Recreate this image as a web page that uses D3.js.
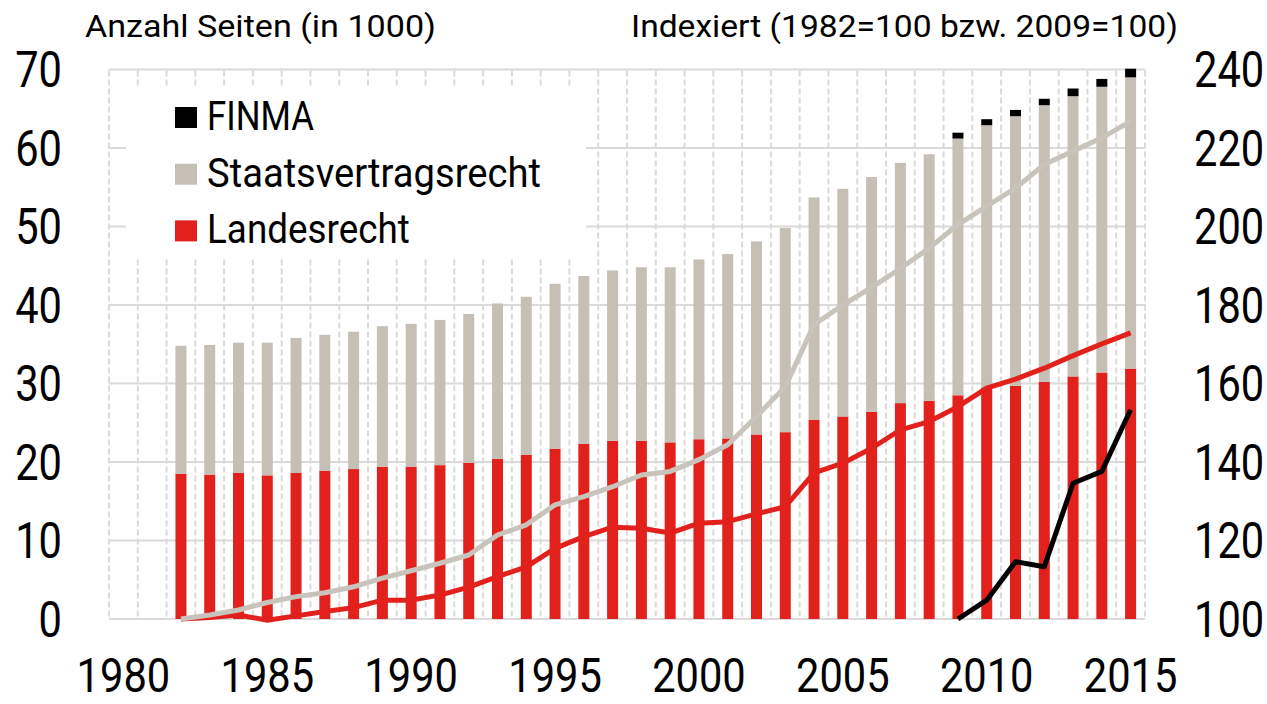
<!DOCTYPE html>
<html>
<head>
<meta charset="utf-8">
<script src="https://cdn.jsdelivr.net/npm/d3@7"></script>
<style>
  html, body { margin: 0; padding: 0; background: #fff; }
  svg { display: block; }
  text { font-family: Roboto, "Liberation Sans", "DejaVu Sans", sans-serif; fill: #000; }
</style>
</head>
<body>
<svg id="chart" width="1267" height="704"></svg>
<script>
// ---------- data ----------
const axisYears = d3.range(1980, 2016);
const years = d3.range(1982, 2016);
const landesrecht = [18.5, 18.4, 18.6, 18.3, 18.6, 18.9, 19.1, 19.4, 19.4, 19.6, 19.9, 20.4, 20.9, 21.7,
  22.3, 22.7, 22.7, 22.5, 22.9, 23.0, 23.5, 23.8, 25.4, 25.8, 26.4, 27.5, 27.8, 28.5, 29.5, 29.7,
  30.2, 30.9, 31.4, 31.9];
const staatsvertragsrecht = [16.3, 16.5, 16.6, 16.9, 17.2, 17.3, 17.5, 17.9, 18.2, 18.5, 18.95, 19.8,
  20.15, 21.0, 21.4, 21.7, 22.1, 22.3, 22.9, 23.5, 24.6, 26.0, 28.3, 29.0, 29.9, 30.6, 31.4, 32.7,
  33.4, 34.35, 35.25, 35.7, 36.4, 37.1];
const finmaYears = d3.range(2009, 2016);
const finma = [0.75, 0.77, 0.80, 0.82, 0.98, 1.0, 1.1];
const landesIndex = [100, 100.4, 101, 99.7, 100.8, 101.9, 102.9, 104.8, 104.8, 106.1, 108.1, 110.8,
  113.3, 118, 121, 123.4, 123.1, 121.9, 124.4, 124.8, 126.8, 128.6, 137.2, 139.7, 143.5, 148.2,
  150.3, 154.1, 158.8, 161.1, 163.9, 167.1, 170.1, 172.9];
const staatsIndex = [100, 101, 102.3, 104.2, 105.7, 106.7, 108.2, 110.4, 112.3, 114.2, 116.3, 121.4,
  124, 129.1, 131.2, 133.7, 136.7, 137.6, 140.6, 144.4, 151.6, 159.2, 175, 180, 184.5, 189.3, 194.5,
  200.5, 205.2, 209.8, 215.8, 219.2, 222.6, 226.8];
const finmaIndex = [100, 104.8, 114.6, 113.3, 134.6, 137.6, 153.3];
const leftTicks = [0, 10, 20, 30, 40, 50, 60, 70];
const rightTicks = [100, 120, 140, 160, 180, 200, 220, 240];
const xTickYears = [1980, 1985, 1990, 1995, 2000, 2005, 2010, 2015];
const legendItems = [
  { label: "FINMA", color: "#000000" },
  { label: "Staatsvertragsrecht", color: "#c5bfb5" },
  { label: "Landesrecht", color: "#e2211c" }
];
const titleLeft = "Anzahl Seiten (in 1000)";
const titleRight = "Indexiert (1982=100 bzw. 2009=100)";

// ---------- styling ----------
const RED = "#e2211c", GREY = "#c5bfb5", GREY_LINE = "#c9c4bb", BLACK = "#000000", GRID = "#dadada";
const L = 109, R = 1145, TOP = 69.5, BOTTOM = 619;
const DIGIT_W = 23.4, TICK_FS = 50, XTICK_FS = 48;

const svg = d3.select("#chart");

// squeeze a text horizontally to a target width (scale about its own x=0 origin)
function condense(sel, targetFn) {
  sel.each(function () {
    const w = this.getComputedTextLength();
    const t = targetFn(this);
    if (w > 0) d3.select(this).attr("transform", `scale(${t / w},1)`);
  });
}

const x = d3.scaleBand().domain(axisYears).range([L, R]).paddingInner(0).paddingOuter(0);
const yL = d3.scaleLinear().domain([0, 70]).range([BOTTOM, TOP]);
const yR = d3.scaleLinear().domain([100, 240]).range([BOTTOM, TOP]);
const cx = yr => x(yr) + x.bandwidth() / 2;
const barW = 11;

// ---------- grid ----------
const grid = svg.append("g");
grid.selectAll("line.h").data(leftTicks).join("line")
  .attr("x1", L).attr("x2", R)
  .attr("y1", d => yL(d)).attr("y2", d => yL(d))
  .attr("stroke", GRID).attr("stroke-width", 2);
const vb = axisYears.map(yr => x(yr)).concat([R]);
grid.selectAll("line.v").data(vb).join("line")
  .attr("x1", d => d).attr("x2", d => d)
  .attr("y1", TOP + 1).attr("y2", BOTTOM - 1)
  .attr("stroke", GRID).attr("stroke-width", 2)
  .attr("stroke-dasharray", "6,3");

// legend background (covers grid)
svg.append("rect").attr("x", 126).attr("y", 88).attr("width", 460).attr("height", 171).attr("fill", "#fff");

// ---------- bars ----------
const bars = svg.append("g");
const rows = years.map((yr, i) => ({ yr, land: landesrecht[i], staats: staatsvertragsrecht[i] }));
bars.selectAll("rect.land").data(rows).join("rect")
  .attr("x", d => cx(d.yr) - barW / 2).attr("width", barW)
  .attr("y", d => yL(d.land)).attr("height", d => yL(0) - yL(d.land))
  .attr("fill", RED);
bars.selectAll("rect.staats").data(rows).join("rect")
  .attr("x", d => cx(d.yr) - barW / 2).attr("width", barW)
  .attr("y", d => yL(d.land + d.staats)).attr("height", d => yL(d.land) - yL(d.land + d.staats))
  .attr("fill", GREY);
const frows = finmaYears.map((yr, i) => {
  const r = rows.find(o => o.yr === yr);
  return { yr, base: r.land + r.staats, v: finma[i] };
});
bars.selectAll("rect.finma").data(frows).join("rect")
  .attr("x", d => cx(d.yr) - barW / 2).attr("width", barW)
  .attr("y", d => yL(d.base + d.v)).attr("height", d => yL(d.base) - yL(d.base + d.v))
  .attr("fill", BLACK);

// ---------- lines ----------
const line = d3.line().x(d => cx(d[0])).y(d => yR(d[1]));
const lines = svg.append("g").attr("fill", "none").attr("stroke-width", 5).attr("stroke-linejoin", "round");
lines.append("path").attr("d", line(years.map((yr, i) => [yr, landesIndex[i]]))).attr("stroke", RED);
lines.append("path").attr("d", line(years.map((yr, i) => [yr, staatsIndex[i]]))).attr("stroke", GREY_LINE);
lines.append("path").attr("d", line(finmaYears.map((yr, i) => [yr, finmaIndex[i]]))).attr("stroke", BLACK);

// ---------- axes ----------
const axL = svg.append("g").attr("transform", `translate(${L - 47},0)`)
  .call(d3.axisLeft(yL).tickValues(leftTicks).tickSize(0).tickPadding(0));
const axR = svg.append("g").attr("transform", `translate(${R + 49},0)`)
  .call(d3.axisRight(yR).tickValues(rightTicks).tickSize(0).tickPadding(0));
const axB = svg.append("g").attr("transform", `translate(0,${BOTTOM})`)
  .call(d3.axisBottom(x).tickValues(xTickYears).tickSize(0).tickPadding(0));
[axL, axR, axB].forEach(a => {
  a.attr("font-family", null).attr("font-size", null);
  a.select(".domain").remove();
  a.selectAll("text").attr("font-size", TICK_FS).attr("fill", "#000").attr("x", 0);
});
axL.selectAll("text").attr("dy", "0.34em");
axR.selectAll("text").attr("dy", "0.34em");
axB.selectAll("text").attr("font-size", XTICK_FS).attr("dy", null).attr("y", 73);
[axL, axR, axB].forEach(a => condense(a.selectAll("text"), el => el.textContent.length * DIGIT_W));

// ---------- titles ----------
const t1 = svg.append("g").attr("transform", "translate(85,37)")
  .append("text").attr("font-size", 31).text(titleLeft);
condense(t1, () => 351);
const t2 = svg.append("g").attr("transform", "translate(631,37)")
  .append("text").attr("font-size", 31).text(titleRight);
condense(t2, () => 547);

// ---------- legend ----------
const legendWidths = [107, 334, 203];
const lg = svg.append("g");
legendItems.forEach((it, i) => {
  const yy = 107 + i * 56.7;
  lg.append("rect").attr("x", 175).attr("y", yy).attr("width", 22).attr("height", 21).attr("fill", it.color);
  const t = lg.append("g").attr("transform", `translate(207,${yy + 23})`)
    .append("text").attr("font-size", 40).text(it.label);
  condense(t, () => legendWidths[i]);
});
</script>
</body>
</html>
